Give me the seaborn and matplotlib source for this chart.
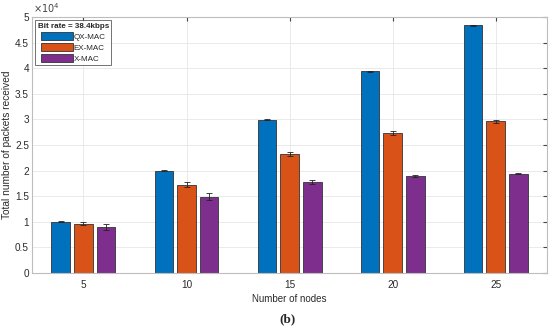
import pandas as pd
import matplotlib
matplotlib.use('Agg')
from matplotlib import pyplot as plt
import seaborn as sns

nodes = ['5', '10', '15', '20', '25']
protocols = ['QX-MAC', 'EX-MAC', 'X-MAC']
colors = ['#0072BD', '#D95319', '#7E2F8E']

qx_mac = [10000, 20000, 29950, 39450, 48400]
ex_mac = [9650, 17250, 23250, 27350, 29650]
x_mac = [8950, 14950, 17750, 19050, 19450]

qx_err = [80, 80, 80, 120, 120]
ex_err = [350, 450, 450, 450, 300]
x_err = [550, 650, 400, 200, 150]

df = pd.DataFrame({
    'nodes': nodes * 3,
    'protocol': [p for p in protocols for _ in nodes],
    'packets': qx_mac + ex_mac + x_mac,
})
errs = qx_err + ex_err + x_err

sns.set_style('whitegrid')
plt.rcParams['font.family'] = ['Liberation Sans', 'DejaVu Sans']

fig = plt.figure(figsize=(5.5, 3.29), dpi=100)
ax = fig.add_axes([0.058, 0.170, 0.937, 0.778])

sns.barplot(data=df, x='nodes', y='packets', hue='protocol', order=nodes,
            hue_order=protocols, palette=colors, width=0.66, gap=0.18,
            errorbar=None, edgecolor='#333333', linewidth=0.6, saturation=1,
            ax=ax)

# error bars on top of each bar
bars = [p for p in ax.patches if p.get_height() > 0][:15]
for p, e in zip(bars, errs):
    xc = p.get_x() + p.get_width() / 2
    ax.errorbar(xc, p.get_height(), yerr=e, fmt='none', ecolor='#222222',
                elinewidth=0.6, capsize=2, capthick=0.6, zorder=5)

ax.set_xlim(-0.5, 4.5)
ax.set_ylim(0, 50000)
yt = [i * 5000 for i in range(11)]
ax.set_yticks(yt)
ax.set_yticklabels(['%g' % (v / 1e4) for v in yt])
ax.text(0.003, 1.008, r'$\times10^4$', transform=ax.transAxes, fontsize=7,
        color='#444444', ha='left', va='bottom')

ax.grid(True, color='#e6e6e6', linewidth=0.6)
ax.set_axisbelow(True)
for s in ax.spines.values():
    s.set_color('#bdbdbd')
    s.set_linewidth(0.8)
ax.tick_params(axis='both', labelsize=7.2, colors='#444444', direction='in',
               length=3, top=True, right=True)
ax.tick_params(axis='y', pad=2)
ax.tick_params(axis='x', pad=5)
ax.tick_params(axis='both', labelcolor='#2a2a2a')

ax.set_xlabel('Number of nodes', fontsize=7, color='#2a2a2a', labelpad=3)
ax.set_ylabel('Total number of packets received', fontsize=7.3,
              color='#2a2a2a', labelpad=2)

leg = ax.legend(loc='upper left', title='Bit rate = 38.4kbps', fontsize=5.8,
                title_fontproperties={'weight': 'bold', 'size': 5.8},
                frameon=True, fancybox=False, edgecolor='#333333',
                handlelength=4.0, handleheight=1.1, borderpad=0.3,
                labelspacing=0.3, handletextpad=0.1, borderaxespad=0.4)
leg.get_frame().set_linewidth(0.6)

fig.text(0.522, 0.012, '(b)', fontsize=9.5, fontweight='bold',
         family='Liberation Serif', ha='center', va='bottom')

plt.savefig('out.png', dpi=100)
